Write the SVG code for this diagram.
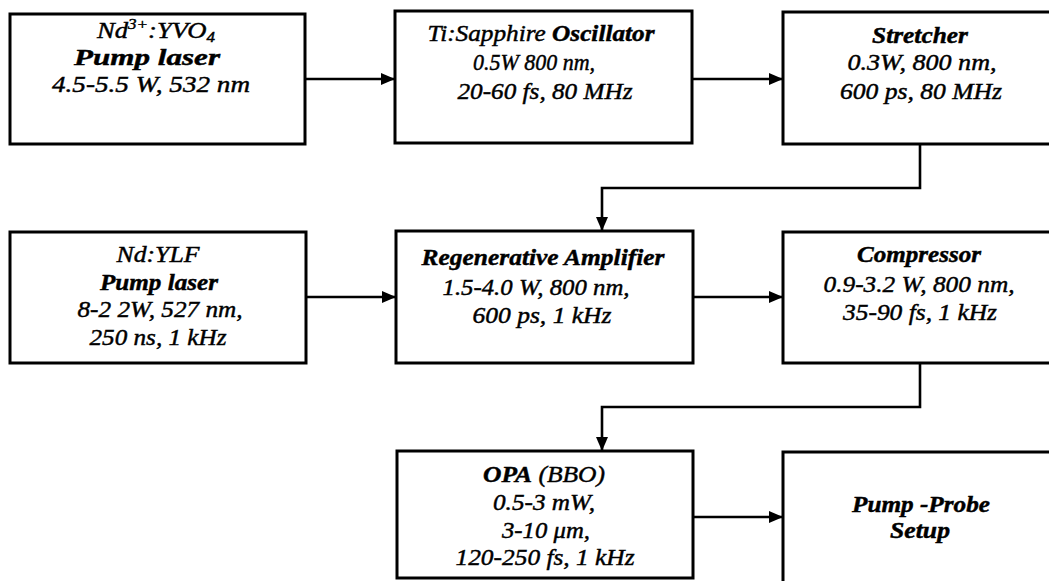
<svg xmlns="http://www.w3.org/2000/svg" width="1049" height="581" viewBox="0 0 1049 581">
<defs>
<marker id="ah" markerWidth="14" markerHeight="12" refX="13" refY="6" orient="auto" markerUnits="userSpaceOnUse">
<path d="M0,0 L14,6 L0,12 Z" fill="#000"/>
</marker>
<style>
.box{fill:#fff;stroke:#000;stroke-width:3}
.con{fill:none;stroke:#000;stroke-width:2.6}
.t text{font-style:italic;font-size:23.5px;fill:#000;stroke:#000;stroke-width:0.45;text-anchor:middle}
.t .b{font-weight:bold}
.t .sm{font-size:15px}
</style>
</defs>
<rect width="1049" height="581" fill="#fff"/>
<g id="connectors">
<path class="con" d="M305,79 H394" marker-end="url(#ah)"/>
<path class="con" d="M692,79 H782" marker-end="url(#ah)"/>
<path class="con" d="M920,144 V188 H602 V230" marker-end="url(#ah)"/>
<path class="con" d="M306,297 H395" marker-end="url(#ah)"/>
<path class="con" d="M693,297 H782" marker-end="url(#ah)"/>
<path class="con" d="M920,363 V407 H602 V450" marker-end="url(#ah)"/>
<path class="con" d="M693,517 H782" marker-end="url(#ah)"/>
</g>
<g class="t" font-family="Liberation Serif, Times New Roman, serif">
<g id="nd-yvo4">
<rect class="box" x="10" y="14" width="295" height="130"/>
<text x="156" y="38" textLength="118" lengthAdjust="spacingAndGlyphs">Nd<tspan class="sm" dy="-9">3+</tspan><tspan dy="9">:YVO</tspan><tspan class="sm" dy="4">4</tspan></text>
<text class="b" x="147" y="65" textLength="146" lengthAdjust="spacingAndGlyphs">Pump laser</text>
<text x="151" y="92" textLength="198" lengthAdjust="spacingAndGlyphs">4.5-5.5 W, 532 nm</text>
</g>
<g id="oscillator">
<rect class="box" x="395" y="11" width="297" height="132"/>
<text x="541" y="41" textLength="227" lengthAdjust="spacingAndGlyphs">Ti:Sapphire <tspan class="b">Oscillator</tspan></text>
<text x="534" y="70" textLength="122" lengthAdjust="spacingAndGlyphs">0.5W 800 nm,</text>
<text x="545" y="99" textLength="175" lengthAdjust="spacingAndGlyphs">20-60 fs, 80 MHz</text>
</g>
<g id="stretcher">
<rect class="box" x="783" y="12" width="290" height="132"/>
<text class="b" x="920" y="43" textLength="96" lengthAdjust="spacingAndGlyphs">Stretcher</text>
<text x="922" y="70" textLength="149" lengthAdjust="spacingAndGlyphs">0.3W, 800 nm,</text>
<text x="921" y="99" textLength="162" lengthAdjust="spacingAndGlyphs">600 ps, 80 MHz</text>
</g>
<g id="nd-ylf">
<rect class="box" x="10" y="232" width="296" height="131"/>
<text x="158" y="262" textLength="83" lengthAdjust="spacingAndGlyphs">Nd:YLF</text>
<text class="b" x="159" y="290" textLength="118" lengthAdjust="spacingAndGlyphs">Pump laser</text>
<text x="160" y="317" textLength="165" lengthAdjust="spacingAndGlyphs">8-2 2W, 527 nm,</text>
<text x="158" y="345" textLength="137" lengthAdjust="spacingAndGlyphs">250 ns, 1 kHz</text>
</g>
<g id="regen-amp">
<rect class="box" x="396" y="231" width="297" height="132"/>
<text class="b" x="543" y="265" textLength="243" lengthAdjust="spacingAndGlyphs">Regenerative Amplifier</text>
<text x="536" y="295" textLength="187" lengthAdjust="spacingAndGlyphs">1.5-4.0 W, 800 nm,</text>
<text x="542" y="323" textLength="139" lengthAdjust="spacingAndGlyphs">600 ps, 1 kHz</text>
</g>
<g id="compressor">
<rect class="box" x="783" y="232" width="290" height="131"/>
<text class="b" x="919" y="262" textLength="124" lengthAdjust="spacingAndGlyphs">Compressor</text>
<text x="919" y="292" textLength="191" lengthAdjust="spacingAndGlyphs">0.9-3.2 W, 800 nm,</text>
<text x="920" y="320" textLength="154" lengthAdjust="spacingAndGlyphs">35-90 fs, 1 kHz</text>
</g>
<g id="opa">
<rect class="box" x="397" y="451" width="296" height="127"/>
<text x="544" y="482" textLength="122" lengthAdjust="spacingAndGlyphs"><tspan class="b">OPA</tspan> (BBO)</text>
<text x="544" y="510" textLength="102" lengthAdjust="spacingAndGlyphs">0.5-3 mW,</text>
<text x="546" y="538" textLength="88" lengthAdjust="spacingAndGlyphs">3-10 μm,</text>
<text x="545" y="565" textLength="179" lengthAdjust="spacingAndGlyphs">120-250 fs, 1 kHz</text>
</g>
<g id="pump-probe">
<rect class="box" x="783" y="452" width="290" height="140"/>
<text class="b" x="921" y="512" textLength="138" lengthAdjust="spacingAndGlyphs">Pump -Probe</text>
<text class="b" x="920" y="538" textLength="60" lengthAdjust="spacingAndGlyphs">Setup</text>
</g>
</g>
</svg>
